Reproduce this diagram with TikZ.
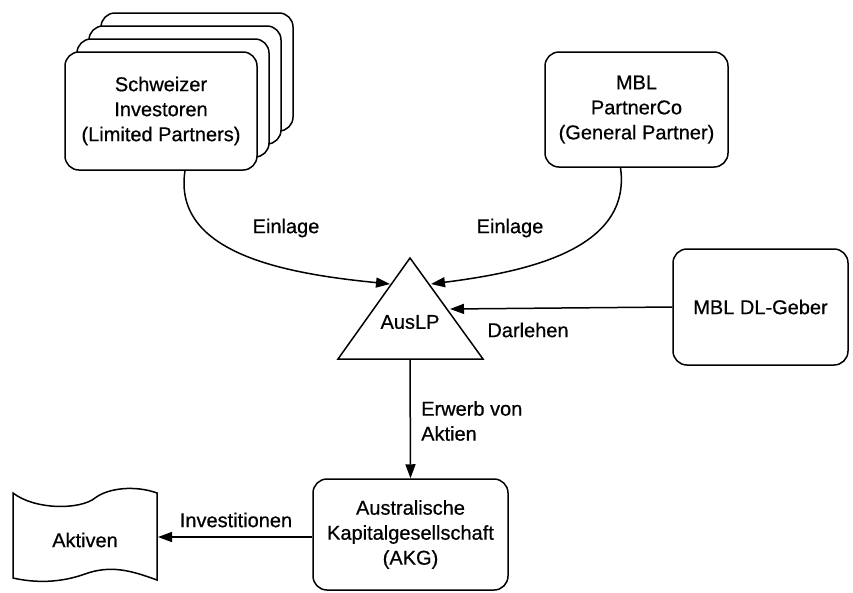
\documentclass[tikz,border=0pt]{standalone}
\usepackage{fontspec}
\setmainfont{Liberation Sans}[FakeBold=0.6]
\usetikzlibrary{arrows.meta}
\begin{document}
\begin{tikzpicture}[x=1pt,y=-1pt,
  every node/.style={font=\fontsize{20}{25}\selectfont},
  line/.style={line width=1.5pt},
  box/.style={draw, line width=1.5pt, rounded corners=14pt, fill=white, align=center, inner sep=0pt},
  arr/.style={line width=1.5pt, -{Triangle[length=14pt,width=10pt]}},
  lbl/.style={inner sep=1pt}]
\useasboundingbox (0,0) rectangle (853,592);
% stacked investor boxes
\node[box, minimum width=192pt, minimum height=118pt] (b3) at (197,72) {};
\node[box, minimum width=192pt, minimum height=118pt] (b2) at (185,85) {};
\node[box, minimum width=192pt, minimum height=118pt] (b1) at (173,98) {};
\node[box, minimum width=192pt, minimum height=118pt] (inv) at (161,111) {Schweizer\\Investoren\\(Limited Partners)};
% general partner
\node[box, minimum width=183pt, minimum height=115pt] (gp) at (636.5,109.5) {MBL\\PartnerCo\\(General Partner)};
% lender
\node[box, minimum width=175pt, minimum height=116pt] (dl) at (760.5,307) {MBL DL-Geber};
% AKG
\node[box, minimum width=195pt, minimum height=111pt] (akg) at (410.5,534.5) {Australische\\Kapitalgesellschaft\\(AKG)};
% triangle AusLP
\coordinate (apex) at (410,258);
\coordinate (bl) at (338,359);
\coordinate (br) at (483,359);
\draw[line, line join=miter] (apex) -- (br) -- (bl) -- cycle;
\node (aus) at (410,322) {AusLP};
\coordinate (tl) at (390,284);
\coordinate (tr) at (431,284);
\coordinate (tr2) at (450,309);
\coordinate (tb) at (410,359);
% Aktiven document shape
\draw[line] (13,493) .. controls (35,510) and (80,510) .. (95,498)
  .. controls (108,488) and (135,485) .. (157,493)
  -- (157,580) .. controls (130,570) and (110,565) .. (85,574)
  .. controls (60,583) and (35,583) .. (13,578) -- cycle;
\node (akt) at (85,540) {Aktiven};
\coordinate (aktr) at (158,537);
% connectors
\draw[arr] (inv.south) ++(24,0) coordinate (s1)
  (s1) .. controls (172,255) and (290,274) .. (tl);
\draw[arr] (gp.south) ++(-16,0) coordinate (s2)
  (s2) .. controls (632,250) and (525,272) .. (tr);
\draw[arr] (dl.west) -- (tr2);
\draw[arr] (tb) -- (akg.north);
\draw[arr] (akg.west |- aktr) -- (aktr);
% labels
\node[lbl] at (286,228) {Einlage};
\node[lbl] at (510,228) {Einlage};
\node[lbl] at (528,330) {Darlehen};
\node[lbl, anchor=west, align=left] at (420,421) {Erwerb von\\Aktien};
\node[lbl] at (236,520) {Investitionen};
\end{tikzpicture}
\end{document}
